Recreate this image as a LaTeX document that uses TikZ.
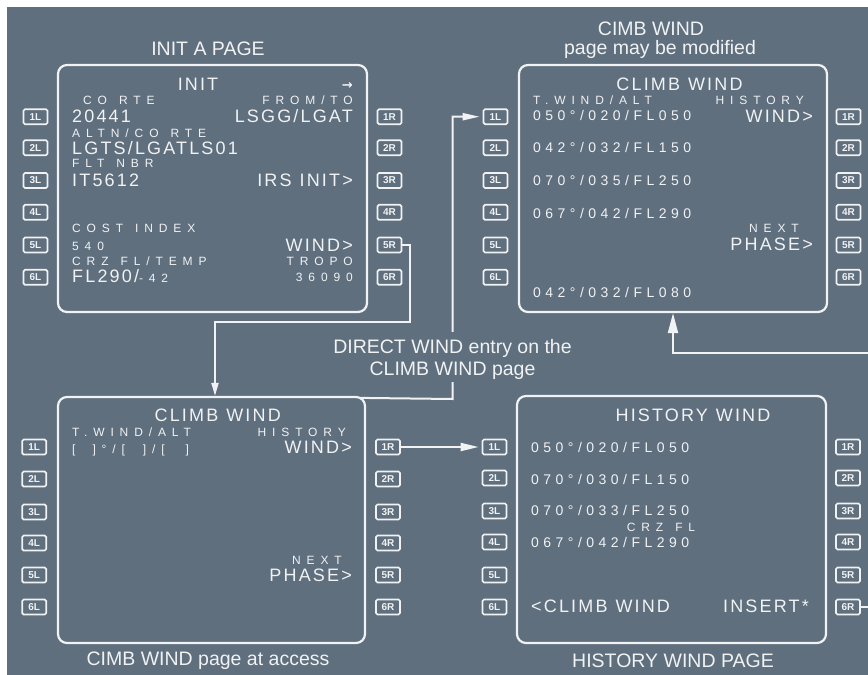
\documentclass[tikz,border=0pt]{standalone}
\usepackage{fontspec}
\setmainfont{Liberation Sans}
\newfontfamily\fmsL[LetterSpace=12]{Liberation Sans}
\newfontfamily\fmsM[LetterSpace=32]{Liberation Sans}
\newfontfamily\fmsS[LetterSpace=49]{Liberation Sans}
\newfontfamily\symf{DejaVu Sans}
\newcommand\fmsgapL{\hspace{8pt}}
\newcommand\fmsgapS{\hspace{12pt}}
\usetikzlibrary{arrows.meta}
\definecolor{bg}{RGB}{95,111,126}
\definecolor{fg}{RGB}{240,242,244}
\tikzset{
 lbl/.style={inner sep=0pt, text=fg},
 txtL/.style={lbl, font=\fmsL\fontsize{18}{20}\selectfont},
 txtM/.style={lbl, font=\fmsM\fontsize{14}{16}\selectfont},
 txtS/.style={lbl, font=\fmsS\fontsize{12}{14}\selectfont},
 captxt/.style={lbl, font=\fontsize{19.5}{22}\selectfont, anchor=base},
 lft/.style={anchor=base west},
 rgt/.style={anchor=base east},
 midtxt/.style={anchor=base},
 panelbox/.style={draw=fg, line width=2.2pt, rounded corners=9pt, inner sep=0pt},
 keybtn/.style={draw=fg, line width=1.7pt, rounded corners=1.5pt, minimum width=24pt, minimum height=15pt, inner sep=0pt, text=fg, font=\bfseries\fontsize{10}{10}\selectfont},
 conn/.style={draw=fg, line width=2pt},
}
\begin{document}
\begin{tikzpicture}[x=1pt,y=-1pt]
\useasboundingbox (0,0) rectangle (868,675);
\clip (0,0) rectangle (868,675);
\fill[white] (0,0) rectangle (868,675);
\fill[bg] (7,7) rectangle (868,675);

% panels
\node[panelbox, minimum width=309pt, minimum height=247pt] (p1) at (212.5,188.5) {};
\node[panelbox, minimum width=308pt, minimum height=247pt] (p2) at (673,188.5) {};
\node[panelbox, minimum width=307pt, minimum height=246pt] (p3) at (211.5,520) {};
\node[panelbox, minimum width=309pt, minimum height=247pt] (p4) at (671.5,519.5) {};

% keys
\foreach \i/\y in {1/116.7,2/147.7,3/180.5,4/212.3,5/245,6/277.3}{
  \node[keybtn] (p1L\i) at (35.5,\y) {{\i}L};
  \node[keybtn] (p1R\i) at (389.5,\y) {{\i}R};
  \node[keybtn] (p2L\i) at (495.5,\y) {{\i}L};
  \node[keybtn] (p2R\i) at (848.5,\y) {{\i}R};
}
\foreach \i/\y in {1/447,2/479,3/512,4/543,5/575,6/607}{
  \node[keybtn] (p3L\i) at (34.2,\y) {{\i}L};
  \node[keybtn] (p3R\i) at (388,\y) {{\i}R};
}
\foreach \i/\y in {1/447,2/478,3/511,4/542,5/575,6/607}{
  \node[keybtn] (p4L\i) at (494.5,\y) {{\i}L};
  \node[keybtn] (p4R\i) at (848,\y) {{\i}R};
}

% connectors
\coordinate (a1) at (410,322);
\coordinate (a2) at (215,322);
\draw[conn,-{Triangle[length=13pt,width=7pt]}] (p1R5.east) -| (a1) -- (a2) -- (a2 |- p3.north);

\coordinate (b1) at (452.5,399);
\draw[conn,-{Triangle[length=17pt,width=7pt]},shorten >=3pt] ([xshift=-5pt,yshift=-2pt]p3.north east) -- (b1) |- (p2L1.west);

\draw[conn,-{Triangle[length=18pt,width=8pt]},shorten >=3pt] (p3R1.east) -- (p4L1.west);

\coordinate (e1) at (875,353);
\coordinate (e2) at (673,353);
\draw[conn,-{Triangle[length=20pt,width=10pt]}] (p4R6.east) -| (e1) -- (e2) -- (e2 |- p2.south);

% middle label (masks the connector)
\node[captxt, fill=bg, text height=21pt, text depth=8pt] (lb1) at (452.5,353.3) {DIRECT WIND entry on the};
\node[captxt, fill=bg, text height=14pt, text depth=7pt] (lb2) at (452.5,375) {CLIMB WIND page};

% captions
\node[captxt] (c1) at (208,55) {INIT A PAGE};
\node[captxt] (c2) at (651,35.5) {CIMB WIND};
\node[captxt] (c3) at (660,54) {page may be modified};
\node[captxt] (c4) at (208,665) {CIMB WIND page at access};
\node[captxt] (c5) at (673,667) {HISTORY WIND PAGE};

% panel 1
\node[txtL,midtxt] (p1t) at (198,90) {INIT};
\node[lbl,rgt,font=\symf\bfseries\fontsize{13}{13}\selectfont] (p1ar) at (353,89.5) {→};
\node[txtS,lft] (p1a) at (83,104.3) {CO\fmsgapS RTE};
\node[txtS,rgt] (p1b) at (353,104.3) {FROM/TO};
\node[txtL,lft] (p1c) at (72,122.7) {20441};
\node[txtL,rgt] (p1d) at (353,122.7) {LSGG/LGAT};
\node[txtS,lft] (p1e) at (72,137.7) {ALTN/CO\fmsgapS RTE};
\node[txtL,lft] (p1f) at (72,154.3) {LGTS/LGATLS01};
\node[txtS,lft] (p1g) at (72,167.7) {FLT\fmsgapS NBR};
\node[txtL,lft] (p1h) at (72,186.7) {IT5612};
\node[txtL,rgt] (p1i) at (353,186.7) {IRS\fmsgapL INIT>};
\node[txtS,lft] (p1j) at (72,232.3) {COST\fmsgapS INDEX};
\node[txtS,lft] (p1k) at (72,250) {540};
\node[txtL,rgt] (p1l) at (353,251.7) {WIND>};
\node[txtS,lft] (p1m) at (72,265) {CRZ\fmsgapS FL/TEMP};
\node[txtS,rgt] (p1n) at (353,265) {TROPO};
\node[txtL,lft] (p1o) at (72,282.7) {FL290/{\fmsS\fontsize{12}{14}\selectfont -42}};
\node[txtS,rgt] (p1p) at (353,281) {36090};

% panel 2
\node[txtL,midtxt] (p2t) at (679.5,90) {CLIMB\fmsgapL WIND};
\node[txtS,lft] (p2a) at (533,104.3) {T.WIND/ALT};
\node[txtS,rgt] (p2b) at (804,104.3) {HISTORY};
\node[txtM,lft] (p2c) at (533,120) {050°/020/FL050};
\node[txtL,rgt] (p2d) at (813,122.7) {WIND>};
\node[txtM,lft] (p2e) at (533,152.3) {042°/032/FL150};
\node[txtM,lft] (p2f) at (533,185.7) {070°/035/FL250};
\node[txtM,lft] (p2g) at (533,218.3) {067°/042/FL290};
\node[txtS,rgt] (p2h) at (799,232.7) {NEXT};
\node[txtL,rgt] (p2i) at (813,250.7) {PHASE>};
\node[txtM,lft] (p2j) at (533,297.3) {042°/032/FL080};

% panel 3
\node[txtL,midtxt] (p3t) at (217.7,421.7) {CLIMB\fmsgapL WIND};
\node[txtS,lft] (p3a) at (72,436) {T.WIND/ALT};
\node[txtS,rgt] (p3b) at (346,436) {HISTORY};
\node[txtS,lft] (p3c) at (72,453.3) {[\hspace{17pt}]°/[\hspace{18pt}]/[\hspace{21pt}]};
\node[txtL,rgt] (p3d) at (352,453.3) {WIND>};
\node[txtS,rgt] (p3e) at (342,564) {NEXT};
\node[txtL,rgt] (p3f) at (352,581.7) {PHASE>};

% panel 4
\node[txtL,midtxt] (p4t) at (693,421.7) {HISTORY\fmsgapL WIND};
\node[txtM,lft] (p4a) at (531,452.3) {050°/020/FL050};
\node[txtM,lft] (p4b) at (531,484) {070°/030/FL150};
\node[txtM,lft] (p4c) at (531,515.7) {070°/033/FL250};
\node[txtS,midtxt] (p4d) at (661,531.7) {CRZ\fmsgapS FL};
\node[txtM,lft] (p4e) at (531,547.3) {067°/042/FL290};
\node[txtL,lft] (p4f) at (531,612.7) {<CLIMB\fmsgapL WIND};
\node[txtL,rgt] (p4g) at (809,612.7) {INSERT*};
\end{tikzpicture}
\end{document}
